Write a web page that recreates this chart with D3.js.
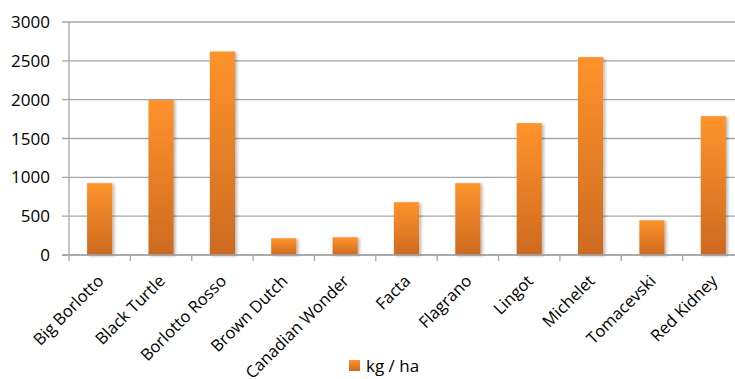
<!DOCTYPE html>
<html>
<head>
<meta charset="utf-8">
<script src="https://cdn.jsdelivr.net/npm/d3@7"></script>
<style>
  html, body { margin: 0; padding: 0; background: #fff; }
  svg { display: block; font-family: "Open Sans", "Liberation Sans", sans-serif; }
</style>
</head>
<body>
<svg id="chart" width="735" height="379"></svg>
<script>
// Bean varieties and their yield (kg / ha)
const categories = ["Big Borlotto", "Black Turtle", "Borlotto Rosso", "Brown Dutch", "Canadian Wonder",
  "Facta", "Flagrano", "Lingot", "Michelet", "Tomacevski", "Red Kidney"];
const yieldKgHa = [925, 1995, 2620, 215, 228, 680, 925, 1698, 2548, 447, 1788];
const yTicks = [0, 500, 1000, 1500, 2000, 2500, 3000];
const seriesName = "kg / ha";

const svg = d3.select("#chart");
const plot = { left: 69, right: 744, top: 22, bottom: 255 };

const defs = svg.append("defs");
const grad = defs.append("linearGradient")
  .attr("id", "barFill").attr("x1", 0).attr("y1", 0).attr("x2", 0).attr("y2", 1);
grad.append("stop").attr("offset", "0%").attr("stop-color", "#ff932c");
grad.append("stop").attr("offset", "100%").attr("stop-color", "#cd6a20");

const shadow = defs.append("filter").attr("id", "barShadow")
  .attr("x", "-30%").attr("y", "-10%").attr("width", "160%").attr("height", "120%");
shadow.append("feDropShadow")
  .attr("dx", 2).attr("dy", 1).attr("stdDeviation", 1.6)
  .attr("flood-color", "#000").attr("flood-opacity", 0.28);

const x = d3.scaleBand()
  .domain(categories)
  .range([plot.left, plot.right])
  .paddingInner(0.59)
  .paddingOuter(0.295);

const y = d3.scaleLinear().domain([0, 3000]).range([plot.bottom, plot.top]);

// Horizontal gridlines with short left ticks
svg.append("g")
  .selectAll("line")
  .data(yTicks)
  .join("line")
  .attr("x1", plot.left - 7).attr("x2", plot.right)
  .attr("y1", d => y(d)).attr("y2", d => y(d))
  .attr("stroke", "#a6a6a6").attr("stroke-width", 1.3);

// Y axis line
svg.append("line")
  .attr("x1", plot.left).attr("x2", plot.left)
  .attr("y1", plot.top).attr("y2", plot.bottom)
  .attr("stroke", "#a6a6a6").attr("stroke-width", 1.3);

// Y tick labels
svg.append("g")
  .selectAll("text")
  .data(yTicks)
  .join("text")
  .attr("x", 50).attr("y", d => y(d))
  .attr("dy", "0.36em")
  .attr("text-anchor", "end")
  .attr("font-size", 17)
  .attr("fill", "#000")
  .text(d => d);

// X tick marks at category boundaries
const step = x.step();
const boundaries = d3.range(categories.length + 1).map(i => plot.left + i * step);
svg.append("g")
  .selectAll("line")
  .data(boundaries)
  .join("line")
  .attr("x1", d => d).attr("x2", d => d)
  .attr("y1", plot.bottom).attr("y2", plot.bottom + 6)
  .attr("stroke", "#a6a6a6").attr("stroke-width", 1.3);

// Bars
svg.append("g")
  .selectAll("rect")
  .data(categories.map((c, i) => ({ c, v: yieldKgHa[i] })))
  .join("rect")
  .attr("x", d => x(d.c))
  .attr("width", x.bandwidth())
  .attr("y", d => y(d.v))
  .attr("height", d => y(0) - y(d.v))
  .attr("fill", "url(#barFill)")
  .attr("filter", "url(#barShadow)");

// X axis baseline
svg.append("line")
  .attr("x1", plot.left - 7).attr("x2", plot.right)
  .attr("y1", plot.bottom).attr("y2", plot.bottom)
  .attr("stroke", "#a6a6a6").attr("stroke-width", 1.3);

// Rotated category labels
svg.append("g")
  .selectAll("text")
  .data(categories)
  .join("text")
  .attr("transform", d => `translate(${x(d) + x.bandwidth() / 2 + 5},${plot.bottom + 27}) rotate(-45)`)
  .attr("text-anchor", "end")
  .attr("font-size", 16.5)
  .attr("fill", "#000")
  .text(d => d);

// Legend
const legend = svg.append("g").attr("transform", "translate(349,360)");
legend.append("rect").attr("width", 11).attr("height", 11).attr("fill", "url(#barFill)");
legend.append("text")
  .attr("x", 17).attr("y", 5.5).attr("dy", "0.36em")
  .attr("font-size", 17).attr("fill", "#000")
  .text(seriesName);
</script>
</body>
</html>
